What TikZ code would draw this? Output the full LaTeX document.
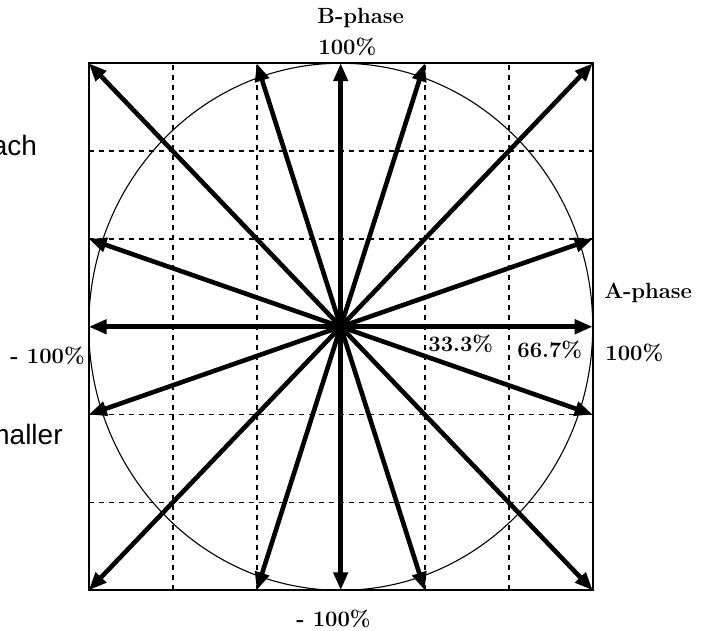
\documentclass[tikz,border=0pt]{standalone}
\usepackage{fontspec}
\newfontfamily\notesans{Liberation Sans}
\usetikzlibrary{arrows.meta,positioning}
\tikzset{
  frame/.style={line width=0.9pt},
  ring/.style={line width=0.55pt},
  gridline/.style={line width=0.8pt,dash pattern=on 2.8pt off 2.2pt},
  vecarr/.style={-{Triangle[length=9pt,width=7pt]},line width=2.3pt},
  lbl/.style={font=\fontsize{11}{13}\selectfont\bfseries,inner sep=0pt},
  note/.style={font=\notesans\fontsize{14}{16}\selectfont,inner sep=0pt}
}

\begin{document}
\begin{tikzpicture}[x=42pt,y=43.92pt]
  \useasboundingbox (-4.056,-3.453) rectangle (4.396,3.720);
  % dashed grid
  \foreach \k in {-2,-1,1,2} {
    \draw[gridline] (\k,-3) -- (\k,3);
    \draw[gridline] (-3,\k) -- (3,\k);
  }
  \draw[ring] (0,0) ellipse [x radius=3,y radius=3];
  \draw[frame] (-3,-3) rectangle (3,3);
  \coordinate (O) at (0,0);
  % phase vectors
  \foreach \px/\py [count=\i] in {3/0,3/1,3/3,1/3,0/3,-1/3,-3/3,-3/1,
                                  -3/0,-3/-1,-3/-3,-1/-3,0/-3,1/-3,3/-3,3/-1} {
    \coordinate (t\i) at (\px,\py);
    \draw[vecarr] (O) -- (t\i);
  }
  % labels
  \node[lbl,anchor=west] (bph) at (-0.282,3.515) {B-phase};
  \node[lbl,anchor=west] (btop) at (-0.270,3.184) {100\%};
  \node[lbl,anchor=west] (aph) at (3.135,0.384) {A-phase};
  \node[lbl,anchor=west] (aright) at (3.146,-0.300) {100\%};
  \node[lbl,anchor=west] (third) at (1.039,-0.189) {33.3\%};
  \node[lbl,anchor=west] (twothird) at (2.099,-0.265) {66.7\%};
  \node[lbl] (aleft) at (-3.490,-0.334) {- 100\%};
  \node[lbl] (bbot) at (-0.086,-3.328) {- 100\%};
  \node[note,anchor=east] (nach) at (-3.610,2.069) {ach};
  \node[note,anchor=east] (nmaller) at (-3.306,-1.222) {maller};
\end{tikzpicture}
\end{document}
